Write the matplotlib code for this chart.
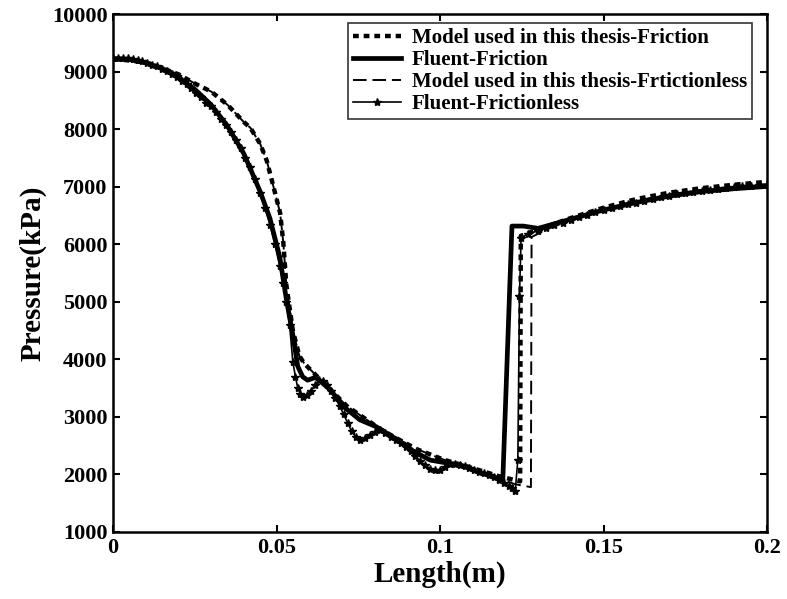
import matplotlib
matplotlib.use("Agg")
import matplotlib.pyplot as plt

# values
x_model_fr = [0, 0.01, 0.02, 0.025, 0.03, 0.035, 0.04, 0.042, 0.045, 0.047, 0.049,
              0.0511, 0.0521, 0.053, 0.055, 0.057, 0.0585, 0.0613, 0.065, 0.0715,
              0.0766, 0.082, 0.087, 0.0929, 0.101, 0.11, 0.118, 0.1245, 0.1247,
              0.13, 0.14, 0.15, 0.16, 0.17, 0.18, 0.19, 0.2]
p_model_fr = [9230, 9170, 8960, 8800, 8660, 8430, 8130, 8030, 7750, 7460, 7020,
              6550, 6020, 5300, 4500, 4060, 3930, 3770, 3560, 3190,
              2990, 2780, 2620, 2440, 2260, 2110, 1970, 1880, 6150,
              6260, 6460, 6640, 6790, 6900, 6980, 7040, 7090]

x_fluent_fr = [0, 0.005, 0.01, 0.015, 0.02, 0.025, 0.03, 0.035, 0.04, 0.045, 0.048,
               0.051, 0.053, 0.055, 0.0565, 0.058, 0.0595, 0.062, 0.0665, 0.0705,
               0.0755, 0.0805, 0.087, 0.092, 0.097, 0.102, 0.106, 0.113, 0.1185,
               0.1192, 0.122, 0.1255, 0.13, 0.14, 0.15, 0.16, 0.17, 0.18, 0.19, 0.2]
p_fluent_fr = [9230, 9220, 9160, 9060, 8900, 8700, 8430, 8060, 7580, 6920, 6450,
               5780, 5050, 4420, 3880, 3700, 3640, 3690, 3470, 3180,
               2950, 2830, 2600, 2400, 2250, 2200, 2170, 2020, 1920,
               1900, 6320, 6320, 6280, 6440, 6600, 6730, 6840, 6920, 6970, 7010]

x_model_frl = [0, 0.01, 0.02, 0.025, 0.03, 0.035, 0.04, 0.042, 0.045, 0.047, 0.049,
               0.0511, 0.0521, 0.053, 0.055, 0.057, 0.0585, 0.0613, 0.065, 0.0715,
               0.0766, 0.082, 0.087, 0.0929, 0.101, 0.11, 0.118, 0.123, 0.1278,
               0.128, 0.133, 0.14, 0.15, 0.16, 0.17, 0.18, 0.19, 0.2]
p_model_frl = [9230, 9170, 8960, 8800, 8660, 8430, 8130, 8030, 7750, 7460, 7020,
               6550, 6020, 5300, 4500, 4060, 3930, 3770, 3560, 3190,
               2990, 2780, 2620, 2440, 2260, 2100, 1930, 1830, 1780,
               6130, 6270, 6430, 6610, 6760, 6870, 6950, 7010, 7050]

x_fluent_frl = [0, 0.0015, 0.003, 0.0045, 0.006, 0.0075, 0.009, 0.0105, 0.012,
                0.0135, 0.015, 0.0165, 0.018, 0.0195, 0.021, 0.0225, 0.024, 0.0255,
                0.027, 0.0285, 0.03, 0.0315, 0.033, 0.0345, 0.036, 0.0375, 0.039,
                0.0405, 0.042, 0.0435, 0.045, 0.0465, 0.048, 0.0495, 0.051, 0.052,
                0.053, 0.054, 0.055, 0.0558, 0.0565, 0.0573, 0.058, 0.0593, 0.0605,
                0.0618, 0.063, 0.0643, 0.0655, 0.0668, 0.068, 0.0693, 0.0705, 0.0718,
                0.073, 0.0743, 0.0755, 0.077, 0.0785, 0.08, 0.0815, 0.0832, 0.085,
                0.0865, 0.088, 0.0895, 0.091, 0.0925, 0.094, 0.0955, 0.097, 0.0985,
                0.1, 0.1015, 0.103, 0.1045, 0.106, 0.1075, 0.109, 0.1105, 0.112,
                0.1135, 0.115, 0.1165, 0.118, 0.1195, 0.121, 0.122, 0.123, 0.1238,
                0.1243, 0.1248, 0.127, 0.13, 0.1325, 0.135, 0.1375, 0.14, 0.1425,
                0.145, 0.1475, 0.15, 0.1525, 0.155, 0.1575, 0.16, 0.1625, 0.165,
                0.1675, 0.17, 0.1725, 0.175, 0.1775, 0.18, 0.1825, 0.185, 0.1875,
                0.19, 0.1925, 0.195, 0.1975, 0.2]
p_fluent_frl = [9250, 9250, 9250, 9240, 9230, 9210, 9190, 9160, 9130,
                9100, 9060, 9010, 8960, 8910, 8850, 8790, 8720, 8640,
                8560, 8460, 8400, 8300, 8190, 8080, 7960, 7820, 7670,
                7510, 7340, 7140, 6900, 6640, 6340, 6000, 5620, 5330,
                5000, 4600, 3950, 3700, 3500, 3400, 3350, 3380, 3450,
                3560, 3640, 3620, 3560, 3450, 3330, 3190, 3050, 2890,
                2750, 2650, 2600, 2640, 2690, 2740, 2770, 2720, 2650,
                2600, 2540, 2470, 2400, 2320, 2230, 2160, 2100, 2080,
                2080, 2130, 2190, 2180, 2160, 2140, 2110, 2080, 2040,
                2020, 1990, 1950, 1910, 1860, 1800, 1760, 1720, 2250,
                5100, 6120, 6180, 6240, 6290, 6340, 6380, 6430, 6470,
                6520, 6560, 6600, 6640, 6670, 6700, 6730, 6760, 6790,
                6820, 6850, 6870, 6890, 6910, 6930, 6950, 6970, 6985,
                7000, 7010, 7020, 7030, 7040]

legend_labels = ["Model used in this thesis-Friction", "Fluent-Friction",
                 "Model used in this thesis-Frtictionless", "Fluent-Frictionless"]

plt.rcParams["font.family"] = ["Liberation Serif", "DejaVu Serif"]
plt.rcParams["font.weight"] = "bold"

fig = plt.figure(figsize=(7.87, 5.99), dpi=100)
ax = fig.add_axes([0.1436, 0.1119, 0.831, 0.8639])

ax.plot(x_model_fr, p_model_fr, color="black", lw=3.2, linestyle=(0, (1.3, 1.1)),
        dash_capstyle="butt", label=legend_labels[0])
ax.plot(x_fluent_fr, p_fluent_fr, color="black", lw=3.4, label=legend_labels[1])
ax.plot(x_model_frl, p_model_frl, color="black", lw=1.4, linestyle=(0, (7, 3)),
        label=legend_labels[2])
ax.plot(x_fluent_frl, p_fluent_frl, color="black", lw=1.2, marker="*",
        markersize=6, label=legend_labels[3])

ax.set_xlim(0, 0.2)
ax.set_ylim(1000, 10000)
ax.set_xticks([0, 0.05, 0.1, 0.15, 0.2])
ax.set_xticklabels(["0", "0.05", "0.1", "0.15", "0.2"])
ax.set_yticks(range(1000, 10001, 1000))
ax.tick_params(direction="in", length=5, width=1.5, top=True, right=True,
               labelsize=16, pad=4)
for s in ax.spines.values():
    s.set_linewidth(1.8)

ax.set_xlabel("Length(m)", fontsize=21, fontweight="bold", labelpad=2)
ax.set_ylabel("Pressure(kPa)", fontsize=21, fontweight="bold", labelpad=4)

leg = ax.legend(loc="upper right", bbox_to_anchor=(0.977, 0.984), fontsize=15,
                frameon=True, fancybox=False, edgecolor="black",
                handlelength=2.3, handletextpad=0.5, labelspacing=0.1,
                borderpad=0.25, borderaxespad=0)
leg.get_frame().set_linewidth(1.2)

fig.savefig("out.png", dpi=100)
